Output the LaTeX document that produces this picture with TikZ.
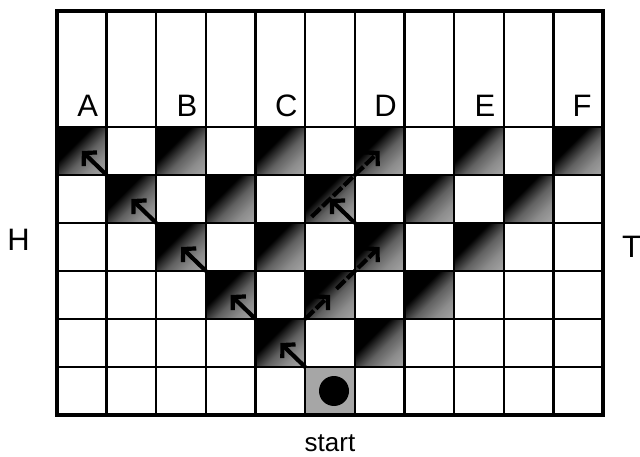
\documentclass[tikz,border=0pt]{standalone}
\usepackage{fontspec}
\setmainfont{Liberation Sans}
\usetikzlibrary{arrows.meta,positioning}

\pgfdeclareverticalshading{cellshade}{100bp}{color(0bp)=(black!25); color(30bp)=(black!45); color(44bp)=(black!62); color(54bp)=(black!85); color(60bp)=(black); color(100bp)=(black)}

\begin{document}
\begin{tikzpicture}[
  x=49.64pt,
  y=48pt,
  font=\fontsize{31}{35}\selectfont,
  cell/.style={minimum width=49.64pt, minimum height=48pt, inner sep=0pt, outer sep=0pt},
  dark/.style={cell, shade, shading=cellshade, shading angle=45},
  grid/.style={line width=2.4pt},
  frame/.style={line width=3.6pt},
  walk/.style={line width=4.2pt, -{Straight Barb[length=9pt, width=19pt]}},
  alt/.style={walk, dash pattern=on 12pt off 3pt},
  letter/.style={inner sep=0pt, anchor=base},
  side/.style={inner sep=0pt}
]
  \useasboundingbox (-1.148,-0.875) rectangle (11.745,8.646);

  % board cells, shaded inside the triangle
  \foreach \r in {1,...,6}{
    \foreach \c in {0,...,10}{
      \pgfmathtruncatemacro{\dist}{abs(\c-5)}
      \pgfmathtruncatemacro{\odd}{mod(\c+\r,2)}
      \ifnum\odd=1
        \ifnum\dist<\numexpr7-\r\relax
          \ifnum\r<6
            \node[dark] (c\c-\r) at (\c+0.5,6.5-\r) {};
          \else
            \node[cell, fill=black!35] (c\c-\r) at (\c+0.5,6.5-\r) {};
          \fi
        \else
          \node[cell] (c\c-\r) at (\c+0.5,6.5-\r) {};
        \fi
      \else
        \node[cell] (c\c-\r) at (\c+0.5,6.5-\r) {};
      \fi
    }
  }

  % grid lines
  \foreach \i in {1,...,10}
    \draw[grid] (\i,0) -- (\i,8.42);
  \foreach \j in {1,...,6}
    \draw[grid] (0,\j) -- (11,\j);
  \draw[frame] (0,0) rectangle (11,8.42);

  % labels
  \node[letter, above=10pt of c0-1.north, xshift=6pt] (labA) {A};
  \node[letter, above=10pt of c2-1.north, xshift=6pt] (labB) {B};
  \node[letter, above=10pt of c4-1.north, xshift=6pt] (labC) {C};
  \node[letter, above=10pt of c6-1.north, xshift=6pt] (labD) {D};
  \node[letter, above=10pt of c8-1.north, xshift=6pt] (labE) {E};
  \node[letter, above=10pt of c10-1.north, xshift=4pt] (labF) {F};
  \node[side, left=27pt of c0-3.west, yshift=7pt] (heads) {H};
  \node[side, right=19pt of c10-3.east] (tails) {T};
  \node[inner sep=0pt, anchor=base, font=\fontsize{26}{30}\selectfont] (start) at ([yshift=-37pt]c5-6.south) {start};

  % ball
  \node[circle, fill=black, minimum size=30pt, inner sep=0pt, xshift=4pt] (ball) at (c5-6.center) {};

  % walk to A
  \draw[walk] (c5-6.north west) -- (c4-5.center);
  \draw[walk] (c4-5.north west) -- (c3-4.center);
  \draw[walk] (c3-4.north west) -- (c2-3.center);
  \draw[walk] (c2-3.north west) -- (c1-2.center);
  \draw[walk] (c1-2.north west) -- (c0-1.center);

  % walk to D
  \draw[alt] (c4-5.north east) -- (c5-4.center);
  \draw[alt, shorten <=9pt] (c5-4.center) -- (c6-3.center);
  \draw[walk] (c6-3.north west) -- (c5-2.center);
  \draw[alt, shorten <=9pt] (c5-2.south west) -- (c6-1.center);
\end{tikzpicture}
\end{document}
